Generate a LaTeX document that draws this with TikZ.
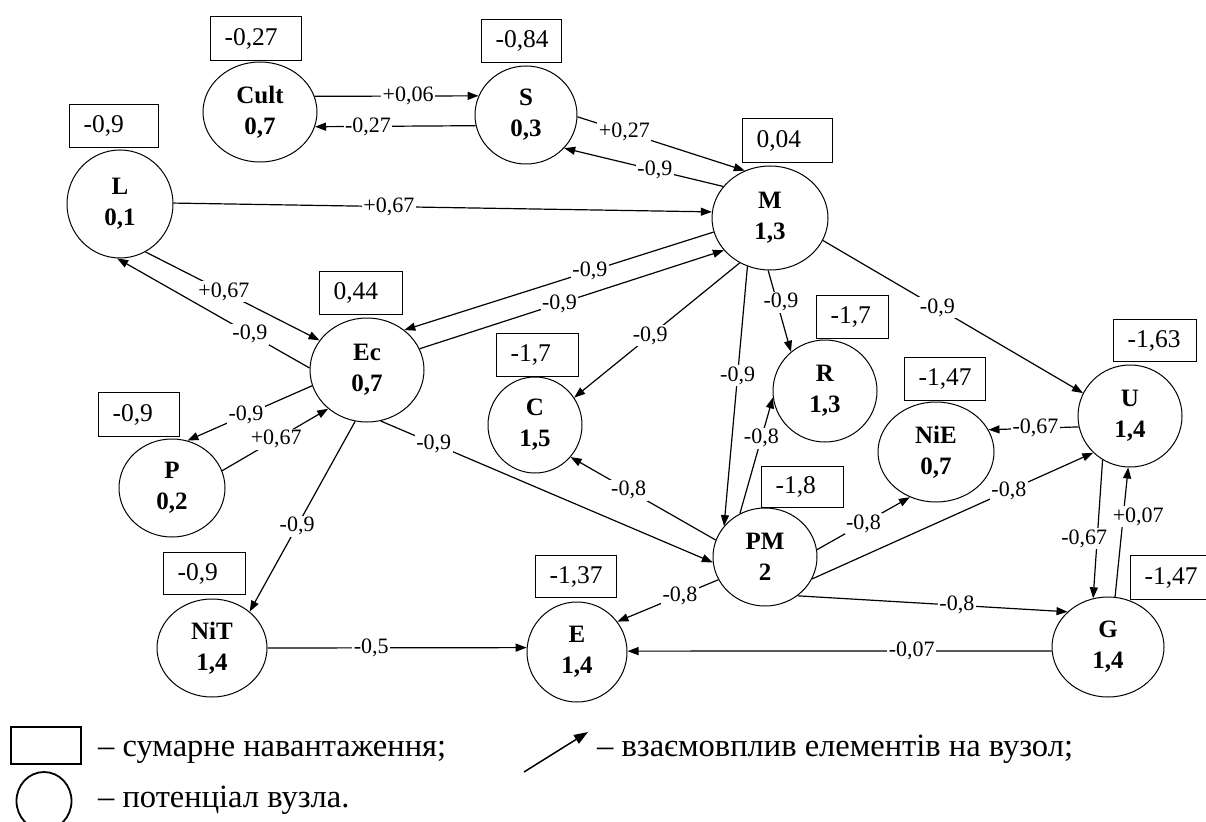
\documentclass[tikz,border=0pt]{standalone}
\usepackage{fontspec}
\setmainfont{Liberation Serif}
\usetikzlibrary{shapes.geometric,arrows.meta}

\begin{document}
\begin{tikzpicture}[x=1pt,y=-1pt,
  vertex/.style={ellipse, draw, line width=1pt, inner sep=0pt, align=center,
    font=\fontsize{25}{31}\selectfont\bfseries},
  loadbox/.style={rectangle, draw, line width=1.1pt, anchor=north west,
    inner xsep=14pt, inner ysep=0pt, align=left,
    font=\fontsize{25.5}{28}\selectfont},
  link/.style={line width=1.2pt, -{Triangle[length=11pt,width=8pt]}},
  wt/.style={fill=white, inner sep=1.5pt, font=\fontsize{22}{25}\selectfont},
  keytext/.style={anchor=base west, inner sep=0pt, font=\fontsize{32.5}{36}\selectfont},
]
\useasboundingbox (0,0) rectangle (1206,821);

% elements: name, potential
\node[vertex, minimum width=114, minimum height=100] (Cult) at (260,112) {Cult\\0,7};
\node[vertex, minimum width=102, minimum height=98]  (S)    at (526,115) {S\\0,3};
\node[vertex, minimum width=106, minimum height=108] (L)    at (120,204) {L\\0,1};
\node[vertex, minimum width=116, minimum height=104] (M)    at (770,218) {M\\1,3};
\node[vertex, minimum width=114, minimum height=104] (Ec)   at (367,370) {Ec\\0,7};
\node[vertex, minimum width=106, minimum height=98]  (P)    at (172,488) {P\\0,2};
\node[vertex, minimum width=94,  minimum height=96]  (C)    at (535,425) {C\\1,5};
\node[vertex, minimum width=104, minimum height=98]  (PM)   at (765,557) {PM\\2};
\node[vertex, minimum width=104, minimum height=102] (R)    at (825,391) {R\\1,3};
\node[vertex, minimum width=116, minimum height=100] (NiE)  at (936,452) {NiE\\0,7};
\node[vertex, minimum width=104, minimum height=102] (U)    at (1130,416) {U\\1,4};
\node[vertex, minimum width=112, minimum height=100] (G)    at (1108,647) {G\\1,4};
\node[vertex, minimum width=110, minimum height=98]  (NiT)  at (212,648) {NiT\\1,4};
\node[vertex, minimum width=100, minimum height=100] (E)    at (577,652) {E\\1,4};

% total load of each element
\node[loadbox, text width=63pt, minimum height=44] (bCult) at (210,16)  {\mbox{-0,27}};
\node[loadbox, text width=52pt, minimum height=43] (bS)    at (481,19)  {\mbox{-0,84}};
\node[loadbox, text width=61pt, minimum height=43] (bL)    at (69,104)  {\mbox{-0,9}};
\node[loadbox, text width=62pt, minimum height=44] (bM)    at (742,118) {\mbox{0,04}};
\node[loadbox, text width=55pt, minimum height=43] (bEc)   at (319,271) {\mbox{0,44}};
\node[loadbox, text width=53pt, minimum height=44] (bP)    at (98,392)  {\mbox{-0,9}};
\node[loadbox, text width=54pt, minimum height=43] (bC)    at (496,333) {\mbox{-1,7}};
\node[loadbox, text width=54pt, minimum height=41] (bPM)   at (761,466) {\mbox{-1,8}};
\node[loadbox, text width=44pt, minimum height=43] (bR)    at (816,295) {\mbox{-1,7}};
\node[loadbox, text width=53pt, minimum height=43] (bNiE)  at (904,357) {\mbox{-1,47}};
\node[loadbox, text width=55pt, minimum height=42] (bU)    at (1113,319) {\mbox{-1,63}};
\node[loadbox, text width=80pt, minimum height=44] (bG)    at (1130,555) {\mbox{-1,47}};
\node[loadbox, text width=54pt, minimum height=42] (bNiT)  at (163,552) {\mbox{-0,9}};
\node[loadbox, text width=53pt, minimum height=42] (bE)    at (535,555) {\mbox{-1,37}};

% mutual influences
\draw[link] (Cult.16)  -- node[wt, pos=.57] (w1)  {+0,06} (S.158);
\draw[link] (S.192)    -- node[wt, pos=.67] (w2)  {-0,27} (Cult.345);
\draw[link] (S.358)    -- node[wt, pos=.28] (w3)  {+0,27} (M.118);
\draw[link] (M.146)    -- node[wt, pos=.43] (w4)  {-0,9}  (S.319);
\draw[link] (L.1)      -- node[wt, pos=.40] (w5)  {+0,67} (M.174);
\draw[link] (L.298)    -- node[wt, pos=.45] (w6)  {+0,67} (Ec.148);
\draw[link] (Ec.178)   -- node[wt, pos=.31] (w7)  {-0,9}  (L.267);
\draw[link] (M.194)    -- node[wt, pos=.40] (w8)  {-0,9}  (Ec.47);
\draw[link] (Ec.22)    -- node[wt, pos=.46] (w9)  {-0,9}  (M.215);
\draw[link] (Ec.196)   -- node[wt, pos=.53] (w10) {-0,9}  (P.72);
\draw[link] (P.19)     -- node[wt, pos=.51] (w11) {+0,67} (Ec.225);
\draw[link] (Ec.285)   -- node[wt, pos=.16] (w12) {-0,9}  (PM.186);
\draw[link] (Ec.257)   -- node[wt, pos=.55] (w13) {-0,9}  (NiT.44);
\draw[link] (M.236)    -- node[wt, pos=.54] (w14) {-0,9}  (C.35);
\draw[link] (PM.161)   -- node[wt, pos=.60] (w15) {-0,8}  (C.318);
\draw[link] (M.245)    -- node[wt, pos=.42] (w16) {-0,9}  (PM.143);
\draw[link] (PM.120)   -- node[wt, pos=.65] (w17) {-0,8}  (R.187);
\draw[link] (M.268)    -- node[wt, pos=.39, xshift=4] (w18) {-0,9}  (R.131);
\draw[link] (M.337)    -- node[wt, pos=.44] (w19) {-0,9}  (U.154);
\draw[link] (U.192)    -- node[wt, pos=.48] (w20) {-0,67} (NiE.23);
\draw[link] (PM.8)     -- node[wt, pos=.50] (w21) {-0,8}  (NiE.240);
\draw[link] (PM.335)   -- node[wt, pos=.70] (w22) {-0,8}  (U.225);
\draw[link] (U.238)    -- node[wt, pos=.57, xshift=-13] (w23) {-0,67} (G.107);
\draw[link] (G.82)     -- node[wt, pos=.62, xshift=15] (w24) {+0,07} (U.268);
\draw[link] (PM.310)   -- node[wt, pos=.59] (w25) {-0,8}  (G.139);
\draw[link] (G.184)    -- node[wt, pos=.33] (w26) {-0,07} (E.1);
\draw[link] (NiT.0)    -- node[wt, pos=.40] (w27) {-0,5}  (E.175);
\draw[link] (PM.206)   -- node[wt, pos=.38] (w28) {-0,8}  (E.37);

% key
\node[draw, line width=1.8pt, anchor=north west, inner sep=0pt,
      minimum width=70, minimum height=37] (keybox) at (10,726) {};
\node[ellipse, draw, line width=1.8pt, inner sep=0pt,
      minimum width=55, minimum height=58] (keycirc) at (44,801) {};
\coordinate (keyA) at (524,772);
\coordinate (keyB) at (588,732);
\draw[line width=1.5pt, -{Triangle[length=14pt,width=10pt]}] (keyA) -- (keyB);
\node[keytext] (key1) at (98,756)  {– сумарне навантаження;};
\node[keytext] (key2) at (597,756) {– взаємовплив елементів на вузол;};
\node[keytext] (key3) at (98,807)  {– потенціал вузла.};
\end{tikzpicture}
\end{document}
